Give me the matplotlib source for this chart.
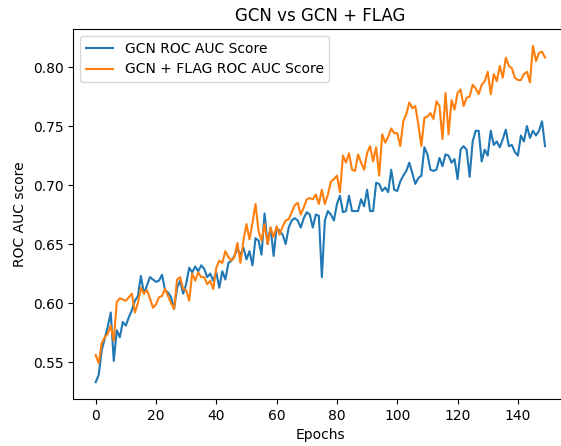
import matplotlib
matplotlib.use("Agg")
import matplotlib.pyplot as plt
import numpy as np

epochs = list(range(150))

gcn_auc = [
    0.533, 0.539, 0.560, 0.570, 0.580, 0.592, 0.551, 0.577, 0.571, 0.584,
    0.581, 0.588, 0.594, 0.602, 0.606, 0.623, 0.608, 0.615, 0.622, 0.620,
    0.618, 0.619, 0.624, 0.611, 0.609, 0.605, 0.595, 0.613, 0.619, 0.608,
    0.616, 0.630, 0.626, 0.631, 0.627, 0.632, 0.629, 0.622, 0.625, 0.619,
    0.626, 0.613, 0.627, 0.620, 0.634, 0.636, 0.640, 0.646, 0.641, 0.647,
    0.637, 0.644, 0.632, 0.655, 0.653, 0.641, 0.676, 0.650, 0.664, 0.640,
    0.664, 0.661, 0.658, 0.650, 0.664, 0.670, 0.672, 0.670, 0.664, 0.672,
    0.677, 0.675, 0.664, 0.675, 0.674, 0.622, 0.670, 0.678, 0.675, 0.670,
    0.684, 0.691, 0.677, 0.678, 0.691, 0.678, 0.678, 0.678, 0.688, 0.682,
    0.696, 0.678, 0.678, 0.702, 0.701, 0.695, 0.698, 0.694, 0.713, 0.696,
    0.695, 0.703, 0.708, 0.712, 0.719, 0.710, 0.701, 0.706, 0.708, 0.732,
    0.726, 0.713, 0.712, 0.713, 0.723, 0.716, 0.726, 0.725, 0.719, 0.722,
    0.705, 0.730, 0.733, 0.730, 0.707, 0.737, 0.746, 0.746, 0.720, 0.730,
    0.725, 0.746, 0.734, 0.737, 0.732, 0.739, 0.747, 0.733, 0.734, 0.728,
    0.725, 0.742, 0.737, 0.750, 0.740, 0.746, 0.742, 0.746, 0.754, 0.733,
]

flag_auc = [
    0.556, 0.549, 0.566, 0.571, 0.574, 0.581, 0.568, 0.601, 0.604, 0.603,
    0.602, 0.605, 0.608, 0.592, 0.600, 0.613, 0.608, 0.611, 0.604, 0.596,
    0.599, 0.605, 0.606, 0.612, 0.606, 0.600, 0.595, 0.620, 0.622, 0.612,
    0.611, 0.602, 0.625, 0.619, 0.626, 0.622, 0.622, 0.616, 0.619, 0.612,
    0.630, 0.636, 0.634, 0.644, 0.639, 0.636, 0.639, 0.651, 0.634, 0.653,
    0.667, 0.654, 0.668, 0.684, 0.661, 0.653, 0.667, 0.650, 0.664, 0.656,
    0.665, 0.658, 0.665, 0.670, 0.671, 0.677, 0.683, 0.685, 0.675, 0.681,
    0.688, 0.689, 0.688, 0.692, 0.684, 0.696, 0.684, 0.692, 0.703, 0.705,
    0.708, 0.694, 0.725, 0.719, 0.727, 0.713, 0.712, 0.726, 0.719, 0.713,
    0.727, 0.733, 0.720, 0.732, 0.708, 0.743, 0.736, 0.741, 0.748, 0.744,
    0.744, 0.733, 0.754, 0.760, 0.770, 0.765, 0.767, 0.751, 0.733, 0.757,
    0.758, 0.761, 0.756, 0.771, 0.767, 0.739, 0.778, 0.743, 0.772, 0.764,
    0.778, 0.781, 0.767, 0.774, 0.775, 0.785, 0.782, 0.777, 0.785, 0.788,
    0.796, 0.777, 0.794, 0.788, 0.801, 0.791, 0.808, 0.801, 0.799, 0.791,
    0.789, 0.789, 0.794, 0.796, 0.787, 0.818, 0.805, 0.812, 0.813, 0.808,
]

fig = plt.figure(figsize=(5.61, 4.46), dpi=100)
ax = fig.add_axes([73.2 / 561, 47 / 446, (567.5 - 73.2) / 561, 370 / 446])
ax.plot(epochs, gcn_auc, color="#1f77b4", label="GCN ROC AUC Score")
ax.plot(epochs, flag_auc, color="#ff7f0e", label="GCN + FLAG ROC AUC Score")
ax.set_title("GCN vs GCN + FLAG", fontsize=12)
ax.set_xlabel("Epochs")
ax.set_ylabel("ROC AUC score")
ax.set_xticks([0, 20, 40, 60, 80, 100, 120, 140])
ax.set_yticks([0.55, 0.60, 0.65, 0.70, 0.75, 0.80])
ax.legend(loc="upper left")
fig.savefig("out.png", dpi=100)
